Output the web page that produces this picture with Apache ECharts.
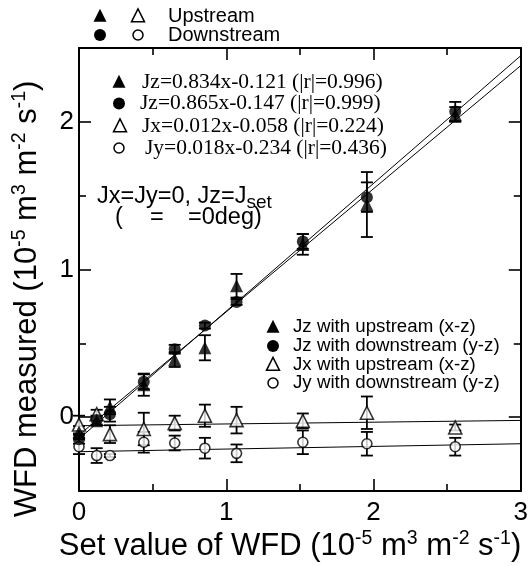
<!DOCTYPE html>
<html><head><meta charset="utf-8">
<script src="https://cdn.jsdelivr.net/npm/echarts@6/dist/echarts.min.js"></script>
<style>html,body{margin:0;padding:0;background:#fff}#c{width:531px;height:566px}</style>
</head><body><div id="c"></div>
<script>
// ---- data ----
var setValues   = [0, 0.12, 0.21, 0.44, 0.65, 0.855, 1.07, 1.52, 1.955, 2.555];
var jzUp        = [-0.10, -0.025, 0.07, 0.22, 0.39, 0.47, 0.89, 1.17, 1.44, 2.05];
var jzUpErr     = [0.04, 0.03, 0.05, 0.075, 0.05, 0.085, 0.08, 0.07, 0.22, 0.05];
var jzDown      = [-0.15, -0.02, 0.02, 0.24, 0.46, 0.62, 0.78, 1.19, 1.49, 2.07];
var jzDownErr   = [0.03, 0.03, 0.05, 0.05, 0.03, 0.02, 0.02, 0.05, 0.10, 0.065];
var jxUp        = [-0.05, 0.02, -0.115, -0.08, -0.04, 0.01, -0.02, -0.025, 0.03, -0.07];
var jxUpErr     = [0.06, 0.03, 0.06, 0.11, 0.05, 0.075, 0.09, 0.05, 0.11, 0.02];
var jyDown      = [-0.20, -0.26, -0.26, -0.17, -0.175, -0.21, -0.245, -0.17, -0.18, -0.20];
var jyDownErr   = [0.05, 0.05, 0.01, 0.07, 0.05, 0.07, 0.06, 0.08, 0.08, 0.06];
// fitted lines (slope, intercept) as printed on the chart
var fitJzUp   = [0.834, -0.121];
var fitJzDown = [0.865, -0.147];
var fitJx     = [0.012, -0.058];
var fitJy     = [0.018, -0.234];
var fitRange  = [0, 3];
var xTicksMajor = [0, 1, 2, 3];
var xTicksMinor = [0.5, 1.5, 2.5];
var yTicksMajor = [0, 1, 2];
var yTicksMinor = [0.5, 1.5];
var seriesNames = ['Jz with upstream (x-z)', 'Jz with downstream (y-z)', 'Jx with upstream (x-z)', 'Jy with downstream (y-z)'];
var equations = ['Jz=0.834x-0.121 (|r|=0.996)', 'Jz=0.865x-0.147 (|r|=0.999)', 'Jx=0.012x-0.058 (|r|=0.224)', 'Jy=0.018x-0.234 (|r|=0.436)'];

function pts(ys){ return setValues.map(function(x,i){ return [x, ys[i]]; }); }
function errs(ys, es){ return setValues.map(function(x,i){ return [x, ys[i], es[i]]; }); }
function fitLine(f){ return fitRange.map(function(x){ return [x, f[0]*x + f[1]]; }); }

var SANS = 'Liberation Sans, Arial, sans-serif';
var SERIF = 'Liberation Serif, Times New Roman, serif';

function errSeries(data){
  return {
    type: 'custom', data: data, z: 3, silent: true,
    encode: {x: 0, y: 1},
    renderItem: function(params, api){
      var x = api.value(0), y = api.value(1), e = api.value(2);
      var top = api.coord([x, y + e]), bot = api.coord([x, y - e]);
      var w = 6;
      var st = {stroke: '#000', lineWidth: 1.8};
      return {type: 'group', children: [
        {type: 'line', shape: {x1: top[0], y1: top[1], x2: bot[0], y2: bot[1]}, style: st},
        {type: 'line', shape: {x1: top[0]-w, y1: top[1], x2: top[0]+w, y2: top[1]}, style: st},
        {type: 'line', shape: {x1: bot[0]-w, y1: bot[1], x2: bot[0]+w, y2: bot[1]}, style: st}
      ]};
    }
  };
}
function lineSeries(f){
  return {type: 'line', data: fitLine(f), symbol: 'none', z: 2, silent: true,
    lineStyle: {color: '#000', width: 1}};
}
function scat(name, ys, sym, size, filled){
  return {type: 'scatter', name: name, data: pts(ys), symbol: sym, symbolSize: size, z: 5,
    itemStyle: filled ? {color: '#000'} : {color: '#fff', borderColor: '#000', borderWidth: 1.6}};
}

function xAx(pos, ticks, len, labels, line){
  return {type: 'value', position: pos, min: 0, max: 3, interval: 1, gridIndex: 0,
    axisLine: {show: line, onZero: false, lineStyle: {color: '#000', width: 2}},
    axisTick: {show: true, inside: true, length: len, customValues: ticks, lineStyle: {color: '#000', width: 1.6}},
    axisLabel: {show: labels, customValues: xTicksMajor, color: '#000', fontSize: 26, fontFamily: SANS, margin: 9},
    splitLine: {show: false}};
}
function yAx(pos, ticks, len, labels, line){
  return {type: 'value', position: pos, min: -0.5, max: 2.5, interval: 0.5, gridIndex: 0,
    axisLine: {show: line, onZero: false, lineStyle: {color: '#000', width: 2}},
    axisTick: {show: true, inside: true, length: len, customValues: ticks, lineStyle: {color: '#000', width: 1.6}},
    axisLabel: {show: labels, customValues: yTicksMajor, color: '#000', fontSize: 26, fontFamily: SANS, margin: 5},
    splitLine: {show: false}};
}

function tri(cx, cy, s, filled){
  return {type: 'polygon', shape: {points: [[cx, cy - s*0.55], [cx - s/2, cy + s*0.45], [cx + s/2, cy + s*0.45]]},
    style: filled ? {fill: '#000'} : {fill: '#fff', stroke: '#000', lineWidth: 1.5}};
}
function circ(cx, cy, r, filled){
  return {type: 'circle', shape: {cx: cx, cy: cy, r: r},
    style: filled ? {fill: '#000'} : {fill: '#fff', stroke: '#000', lineWidth: 1.5}};
}
function txt(x, y, s, size, fam, extra){
  var st = {text: s, x: x, y: y, fontSize: size, fontFamily: fam, fill: '#000', align: 'left', verticalAlign: 'middle'};
  if (extra) for (var k in extra) st[k] = extra[k];
  return {type: 'text', style: st, z: 10};
}

var supRich = {
  n: {fontSize: 31, fontFamily: SANS, fill: '#000'},
  p: {fontSize: 19.5, fontFamily: SANS, fill: '#000', padding: [0, 0, 14, 0]}
};
var unitText = '{n|(10}{p|-5}{n| m}{p|3}{n| m}{p|-2}{n| s}{p|-1}{n|)}';

var eqRows = [82, 103.5, 126, 148];
var legRows = [327, 346, 364.5, 383];

var graphics = [
  // top key
  tri(100, 16, 13, true), tri(138, 16, 13, false), txt(168, 16, 'Upstream', 20, SANS),
  circ(100, 35, 6, true), circ(138, 35, 5, false), txt(168, 35, 'Downstream', 20, SANS),
  // equations
  tri(119, eqRows[0], 13, true), txt(142, eqRows[0], equations[0], 21.5, SERIF),
  circ(119, eqRows[1], 6, true), txt(140, eqRows[1], equations[1], 21.5, SERIF),
  tri(120, eqRows[2], 13, false), txt(142, eqRows[2], equations[2], 21.5, SERIF),
  circ(119, eqRows[3], 5, false), txt(145, eqRows[3], equations[3], 21.5, SERIF),
  // condition
  {type: 'text', z: 10, style: {x: 97, y: 197, verticalAlign: 'middle', align: 'left',
    text: '{a|Jx=Jy=0, Jz=J}{s|set}',
    rich: {a: {fontSize: 23.5, fontFamily: SANS, fill: '#000'}, s: {fontSize: 19, fontFamily: SANS, fill: '#000', padding: [12, 0, 0, 0]}}}},
  txt(115, 218, '(', 23.5, SANS), txt(150, 218, '=', 23.5, SANS), txt(188, 218, '=0deg)', 23.5, SANS),
  // series key
  tri(273, legRows[0], 13, true), txt(293, legRows[0], seriesNames[0], 18.7, SANS),
  circ(273, legRows[1], 6, true), txt(293, legRows[1], seriesNames[1], 18.7, SANS),
  tri(273, legRows[2], 13, false), txt(293, legRows[2], seriesNames[2], 18.7, SANS),
  circ(273, legRows[3], 5, false), txt(293, legRows[3], seriesNames[3], 18.7, SANS),
  // axis titles
  {type: 'text', z: 10, style: {x: 290, y: 546, align: 'center', verticalAlign: 'middle',
    text: '{n|Set value of WFD }' + unitText, rich: supRich}},
  {type: 'text', z: 10, x: 27, y: 299, rotation: Math.PI/2, style: {x: 0, y: 0, align: 'center', verticalAlign: 'middle',
    text: '{n|WFD measured }' + unitText, rich: supRich}}
];

var chart = echarts.init(document.getElementById('c'), null, {renderer: 'canvas'});
chart.setOption({
  animation: false,
  backgroundColor: '#fff',
  grid: {left: 79, right: 10, top: 48, bottom: 75, containLabel: false},
  xAxis: [
    xAx('bottom', xTicksMajor, 12, true, true),
    xAx('bottom', xTicksMinor, 7, false, false),
    xAx('top', xTicksMajor, 12, false, true),
    xAx('top', xTicksMinor, 7, false, false)
  ],
  yAxis: [
    yAx('left', yTicksMajor, 12, true, true),
    yAx('left', yTicksMinor, 7, false, false),
    yAx('right', yTicksMajor, 12, false, true),
    yAx('right', yTicksMinor, 7, false, false)
  ],
  series: [
    lineSeries(fitJzUp), lineSeries(fitJzDown), lineSeries(fitJx), lineSeries(fitJy),
    errSeries(errs(jzUp, jzUpErr)), errSeries(errs(jzDown, jzDownErr)),
    errSeries(errs(jxUp, jxUpErr)), errSeries(errs(jyDown, jyDownErr)),
    scat(seriesNames[2], jxUp, 'triangle', 13, false),
    scat(seriesNames[3], jyDown, 'circle', 10, false),
    scat(seriesNames[0], jzUp, 'triangle', 13, true),
    scat(seriesNames[1], jzDown, 'circle', 12, true)
  ],
  graphic: graphics
});
</script></body></html>
